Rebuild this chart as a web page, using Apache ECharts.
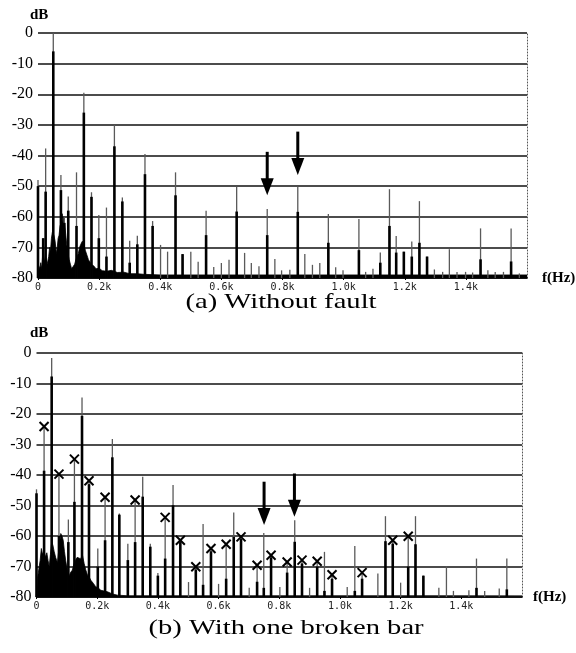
<!DOCTYPE html>
<html><head><meta charset="utf-8">
<script src="https://cdn.jsdelivr.net/npm/echarts@6/dist/echarts.min.js"></script>
<style>html,body{margin:0;padding:0;background:#fff}#c{width:576px;height:653px}</style>
</head><body><div id="c"></div>
<script>
// ---------- DATA ----------
const yTicks = [0, -10, -20, -30, -40, -50, -60, -70, -80];
const xTickLabels = ['0', '0.2k', '0.4k', '0.6k', '0.8k', '1.0k', '1.2k', '1.4k'];

// (a) Without fault: spectral components [frequency Hz]
const freqA  = [0, 17, 25, 50, 75, 86, 99, 126, 150, 175, 199, 224, 250, 276, 300, 325, 350, 375, 401, 424, 450, 473, 500, 524, 550, 575, 600, 625, 650, 676, 698, 723, 750, 775, 797, 824, 850, 873, 898, 922, 950, 974, 998, 1050, 1072, 1096, 1120, 1150, 1172, 1197, 1223, 1248, 1273, 1297, 1324, 1346, 1371, 1399, 1422, 1448, 1472, 1496, 1523, 1548, 1575];
// max-hold level (thin grey trace), dB
const peakA  = [-48, -67, -37.7, 0, -46.4, -60, -53.4, -45.5, -19.5, -52, -59.4, -57, -30, -53.7, -67.8, -66.2, -39.5, -61.4, -69.2, -71.4, -45.5, -72.2, -71.4, -74.7, -58, -76.4, -75.1, -74, -50.2, -71.8, -75.1, -76.2, -57.5, -73.8, -77.5, -77.3, -50.2, -72.2, -75.7, -75.1, -59.1, -76.5, -77.5, -60.7, -78, -77, -71.7, -51, -66.3, -71.4, -68.1, -54.9, -73, -77.2, -78, -70.6, -78, -78, -78.2, -63.8, -77.5, -78, -78, -63.8, -78.5];
// current level (thick black trace), dB (null = none)
const levelA = [-50, -67, -51.8, -6, -51.3, -62, -58, -63, -26, -53.5, -67, -73, -37, -55, -75, -69, -46.1, -63, null, null, -53, -72.2, null, null, -66, null, null, null, -58.3, null, null, null, -66, null, null, null, -58.4, null, null, null, -68.5, null, null, -70.9, null, null, -75, -63, -71.7, -71.4, -73, -68.5, -73, null, null, null, null, null, null, -73.9, null, null, null, -74.6, null];
// broadband noise floor (a)
const noiseFreqA = [0, 2, 6, 9, 12, 17, 20, 25, 30, 35, 38, 41, 44, 47, 52, 56, 60, 63, 66, 69, 72, 76, 79, 82, 85, 88, 91, 94, 98, 102, 106, 110, 115, 120, 124, 128, 132, 136, 140, 145, 150, 155, 160, 165, 170, 175, 182, 190, 200, 210, 225, 240, 260, 281, 300, 324, 346, 400, 1600];
const noiseDbA   = [-80, -76, -77, -75, -77, -70, -75, -73, -75.5, -73, -70, -71, -67, -65, -66, -68, -72, -70, -67, -66, -63, -62, -59, -62, -60, -63, -66, -69, -72, -74, -75.5, -77, -76.5, -75.5, -74, -73.5, -72, -70, -69, -68, -69, -71, -72.5, -74, -74.8, -75.6, -76, -77, -76.8, -77.6, -77.8, -77.5, -78.2, -78.1, -78.6, -78.6, -78.8, -79, -79];
const arrowFreqA = [750, 850];
const arrowFromA = [-38.8, -32.2];
const arrowToA   = [-53, -46.4];

// (b) With one broken bar
const freqB  = [0, 25, 50, 74, 105, 125, 150, 173, 202, 226, 250, 273, 301, 325, 350, 375, 400, 424, 450, 474, 501, 525, 549, 575, 600, 625, 650, 674, 701, 727, 749, 773, 802, 826, 851, 875, 900, 925, 949, 974, 1024, 1049, 1073, 1125, 1150, 1174, 1200, 1225, 1249, 1275, 1326, 1351, 1374, 1425, 1450, 1477, 1525, 1550];
const peakB  = [-44.7, -24.1, -1.6, -39.7, -54.6, -34.8, -14.6, -41.9, -64.1, -47.3, -28.2, -52.6, -62.5, -48.2, -40.6, -62.5, -72.1, -53.9, -43.3, -61.4, -75.1, -70.1, -56.1, -64.1, -75.7, -62.7, -52.3, -60.3, -77, -69.6, -59, -66.3, -76.7, -68.5, -54.8, -67.9, -77, -68.3, -65.2, -72.7, -76.7, -63.3, -72, -72.3, -53.5, -61.4, -75.3, -60.1, -53.5, -73, -77, -69.9, -78, -77.8, -67.4, -78, -77.2, -67.4];
const levelB = [-46, -38.6, -7.7, -60, -62, -48.8, -20.6, -43, -70, -61.4, -34.2, -53, -67.9, -62, -47.1, -63.5, -73, -67.4, -49.9, -62, null, -71, -76, -65, null, -74, -60.3, -61, null, -75, -77, -67, null, -72, -61.9, -69, null, -70, -78, -74, null, -78, -74, null, -61.7, -62.5, null, -70, -62.7, -73, null, null, null, null, -77, null, null, -77.5];
// fault-signature components marked with a cross
const crossFreqB = [25, 74, 125, 173, 226, 325, 424, 474, 525, 575, 625, 674, 727, 773, 826, 875, 925, 974, 1073, 1174, 1225];
const crossDbB   = [-24.1, -39.7, -34.8, -41.9, -47.3, -48.2, -53.9, -61.4, -70.1, -64.1, -62.7, -60.3, -69.6, -66.3, -68.5, -67.9, -68.3, -72.7, -72, -61.4, -60.1];
const noiseFreqB = [0, 3, 8, 12, 16, 20, 25, 30, 34, 38, 42, 46, 50, 54, 58, 63, 69, 74, 80, 84, 88, 92, 96, 101, 107, 112, 118, 124, 129, 134, 140, 146, 151, 157, 162, 168, 174, 179, 187, 195, 203, 212, 222, 234, 250, 267, 300, 1600];
const noiseDbB   = [-80, -74, -74, -68, -64.1, -66, -65, -67, -65.5, -68, -70, -66, -62, -63, -65, -67, -68.8, -64, -59.2, -60, -61.4, -65, -67.9, -71, -73.3, -72, -71.2, -69, -67.9, -67, -66.8, -67.5, -66, -69, -71, -72.8, -73.5, -74.5, -75.5, -76.6, -77, -77.8, -78, -78.3, -79, -79.4, -79.6, -79.6];
const arrowFreqB = [750, 850];
const arrowFromB = [-42.2, -39.5];
const arrowToB   = [-56.4, -53.7];

// ---------- CHART ----------
const zip2 = (a, b) => a.map((v, i) => [v, b[i]]).filter(d => d[1] !== null);
const zip3 = (a, b, c) => a.map((v, i) => [v, b[i], c[i]]);

function vline(color, width) {
  return function (params, api) {
    const f = api.value(0), v = api.value(1);
    const p0 = api.coord([f, -80]), p1 = api.coord([f, v]);
    return { type: 'line', shape: { x1: p0[0], y1: p0[1], x2: p1[0], y2: p1[1] },
      style: { stroke: color, lineWidth: width } };
  };
}
function crossItem(params, api) {
  const p = api.coord([api.value(0), api.value(1)]);
  const s = 4.5;
  return { type: 'group', children: [
    { type: 'line', shape: { x1: p[0] - s, y1: p[1] - s, x2: p[0] + s, y2: p[1] + s }, style: { stroke: '#000', lineWidth: 2 } },
    { type: 'line', shape: { x1: p[0] - s, y1: p[1] + s, x2: p[0] + s, y2: p[1] - s }, style: { stroke: '#000', lineWidth: 2 } }
  ]};
}
function arrowItem(params, api) {
  const f = api.value(0);
  const p0 = api.coord([f, api.value(1)]), p1 = api.coord([f, api.value(2)]);
  const hh = 17, hw = 6.5;
  return { type: 'group', children: [
    { type: 'line', shape: { x1: p0[0], y1: p0[1], x2: p1[0], y2: p1[1] - hh + 2 }, style: { stroke: '#000', lineWidth: 3 } },
    { type: 'polygon', shape: { points: [[p1[0] - hw, p1[1] - hh], [p1[0] + hw, p1[1] - hh], [p1[0], p1[1]]] }, style: { fill: '#000' } }
  ]};
}

const serifLbl = { fontFamily: 'Liberation Serif', fontSize: 16, color: '#000' };
function yAx(gi) {
  return { type: 'value', gridIndex: gi, min: -80, max: 0, interval: 10,
    axisLine: { show: false }, axisTick: { show: false },
    axisLabel: Object.assign({ margin: 5, formatter: v => yTicks.includes(v) ? String(v) : '' }, serifLbl),
    splitLine: { show: true, lineStyle: { color: '#111', width: 1.5 } } };
}
function yAxRight(gi) {
  return { type: 'value', gridIndex: gi, position: 'right', min: -80, max: 0, interval: 10,
    axisLine: { show: true, lineStyle: { color: '#555', width: 1, type: [1, 2] } },
    axisTick: { show: false }, axisLabel: { show: false }, splitLine: { show: false } };
}
function xAx(gi) {
  return { type: 'value', gridIndex: gi, min: 0, max: 1600, interval: 200,
    axisLine: { show: true, onZero: false, lineStyle: { color: '#000', width: 1.5 } },
    axisTick: { show: true, length: 2, lineStyle: { color: '#000' } },
    splitLine: { show: false },
    axisLabel: { showMaxLabel: false, margin: 4, fontFamily: 'DejaVu Sans Mono', fontSize: 10, color: '#222',
      formatter: v => xTickLabels[Math.round(v / 200)] || '' } };
}

function seriesFor(gi, yi, freq, peak, level, nf, nd, af, a0, a1) {
  const s = [];
  s.push({ type: 'line', xAxisIndex: gi, yAxisIndex: yi, data: zip2(nf, nd), symbol: 'none', silent: true,
    lineStyle: { color: '#000', width: 0.8 }, areaStyle: { color: '#000', opacity: 1, origin: 'start' }, z: 2 });
  s.push({ type: 'custom', xAxisIndex: gi, yAxisIndex: yi, renderItem: vline('#5a5a5a', 1.3), data: zip2(freq, peak), encode: { x: 0, y: 1 }, z: 3 });
  s.push({ type: 'custom', xAxisIndex: gi, yAxisIndex: yi, renderItem: vline('#000', 2.6), data: zip2(freq, level), encode: { x: 0, y: 1 }, z: 4 });
  s.push({ type: 'custom', xAxisIndex: gi, yAxisIndex: yi, renderItem: arrowItem, data: zip3(af, a0, a1), encode: { x: 0, y: [1, 2] }, z: 6 });
  return s;
}

const series = [].concat(
  seriesFor(0, 0, freqA, peakA, levelA, noiseFreqA, noiseDbA, arrowFreqA, arrowFromA, arrowToA),
  seriesFor(1, 1, freqB, peakB, levelB, noiseFreqB, noiseDbB, arrowFreqB, arrowFromB, arrowToB),
  [{ type: 'custom', xAxisIndex: 1, yAxisIndex: 1, renderItem: crossItem, data: zip2(crossFreqB, crossDbB), encode: { x: 0, y: 1 }, z: 7 }]
);

const boldSerif = { fontFamily: 'Liberation Serif', fontWeight: 'bold', fontSize: 15, fill: '#000' };
const capSerif = { fontFamily: 'Liberation Serif', fontSize: 22, fill: '#000', textAlign: 'center', textVerticalAlign: 'middle' };
const chart = echarts.init(document.getElementById('c'), null, { renderer: 'canvas' });
chart.setOption({
  animation: false,
  backgroundColor: '#fff',
  grid: [
    { left: 38, right: 49, top: 33, height: 245 },
    { left: 36.5, right: 54, top: 353, height: 244 }
  ],
  xAxis: [xAx(0), xAx(1)],
  yAxis: [yAx(0), yAx(1), yAxRight(0), yAxRight(1)],
  graphic: [
    { type: 'text', left: 30, top: 8, style: Object.assign({ text: 'dB' }, boldSerif) },
    { type: 'text', left: 30, top: 326, style: Object.assign({ text: 'dB' }, boldSerif) },
    { type: 'text', left: 542, top: 271, style: Object.assign({ text: 'f(Hz)' }, boldSerif) },
    { type: 'text', left: 533, top: 590, style: Object.assign({ text: 'f(Hz)' }, boldSerif) },
    { type: 'text', x: 281, y: 302, scaleX: 1.3, style: Object.assign({ text: '(a) Without fault' }, capSerif) },
    { type: 'text', x: 286, y: 628, scaleX: 1.3, style: Object.assign({ text: '(b) With one broken bar' }, capSerif) }
  ],
  series: series
});
</script></body></html>
